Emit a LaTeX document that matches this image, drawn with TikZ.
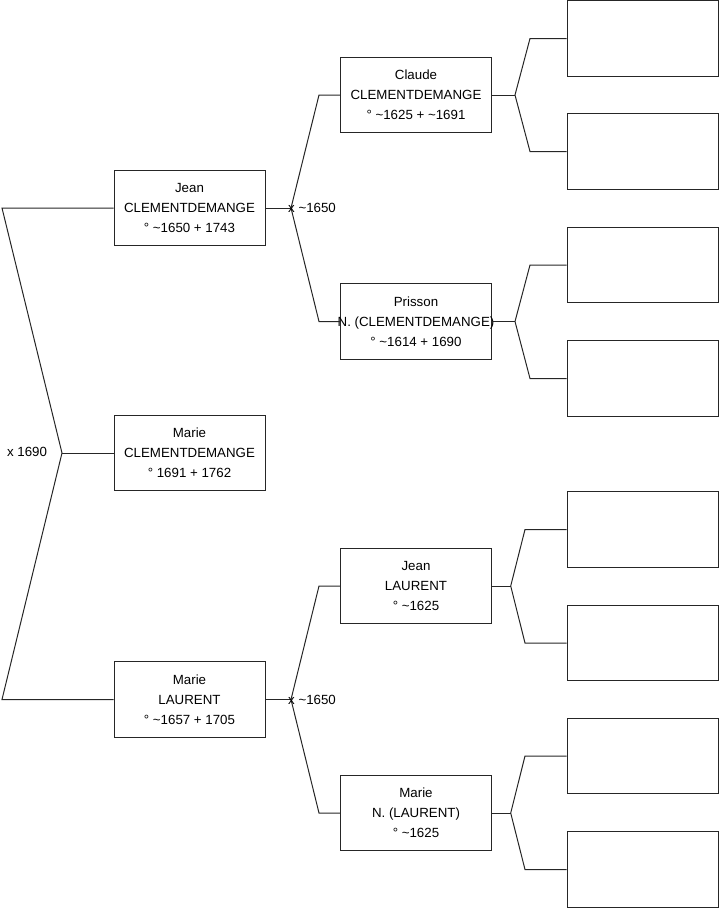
\documentclass[tikz,border=0pt]{standalone}
\usepackage{fontspec}
\setmainfont{Liberation Sans}
\begin{document}
\begin{tikzpicture}[x=1pt,y=-1pt,
  person/.style={draw=black!85, line width=1pt, minimum width=151pt, minimum height=75.5pt,
    inner sep=0pt, align=center, font=\fontsize{13.3}{20}\selectfont},
  empty/.style={draw=black!85, line width=1pt, minimum width=151pt, minimum height=75.5pt, inner sep=0pt},
  link/.style={draw=black!85, line width=1pt},
  lbl/.style={inner sep=0pt, font=\fontsize{13.3}{16}\selectfont}]
\useasboundingbox (0,0) rectangle (719,908);
% generation 1
\node[person] (jean) at (189.5,208) {Jean\\CLEMENTDEMANGE\\° \textasciitilde1650 + 1743};
\node[person] (marie) at (189.5,453) {Marie\\CLEMENTDEMANGE\\° 1691 + 1762};
\node[person] (marieL) at (189.5,699.5) {Marie\\LAURENT\\° \textasciitilde1657 + 1705};
% generation 2
\node[person] (claude) at (416,95) {Claude\\CLEMENTDEMANGE\\° \textasciitilde1625 + \textasciitilde1691};
\node[person] (prisson) at (416,321.5) {Prisson\\\makebox[0pt]{N. (CLEMENTDEMANGE)}\\° \textasciitilde1614 + 1690};
\node[person] (jeanL) at (416,586) {Jean\\LAURENT\\° \textasciitilde1625};
\node[person] (marieN) at (416,813) {Marie\\N. (LAURENT)\\° \textasciitilde1625};
% generation 3 (empty)
\node[empty] (e1) at (642.5,38.5) {};
\node[empty] (e2) at (642.5,151.5) {};
\node[empty] (e3) at (642.5,265) {};
\node[empty] (e4) at (642.5,378.5) {};
\node[empty] (e5) at (642.5,529.5) {};
\node[empty] (e6) at (642.5,643) {};
\node[empty] (e7) at (642.5,756) {};
\node[empty] (e8) at (642.5,869.5) {};
% junction coordinates
\coordinate (a1) at (2,208);
\coordinate (j0) at (62,453);
\coordinate (a2) at (2,699.5);
\coordinate (j1) at (291,208);
\coordinate (b1) at (319,95);
\coordinate (b2) at (319,321.5);
\coordinate (j2) at (291,699.5);
\coordinate (b3) at (319,586);
\coordinate (b4) at (319,813);
\coordinate (k1) at (515,95);
\coordinate (c1) at (530,38.5);
\coordinate (c2) at (530,151.5);
\coordinate (k2) at (515,321.5);
\coordinate (c3) at (530,265);
\coordinate (c4) at (530,378.5);
\coordinate (k3) at (510.7,586);
\coordinate (c5) at (525,529.5);
\coordinate (c6) at (525,643);
\coordinate (k4) at (510.7,813);
\coordinate (c7) at (525,756);
\coordinate (c8) at (525,869.5);
% connectors
\draw[link] (jean.west) -- (a1) -- (j0) -- (a2) -- (marieL.west);
\draw[link] (j0) -- (marie.west);
\draw[link] (jean.east) -- (j1);
\draw[link] (claude.west) -- (b1) -- (j1) -- (b2) -- (prisson.west);
\draw[link] (marieL.east) -- (j2);
\draw[link] (jeanL.west) -- (b3) -- (j2) -- (b4) -- (marieN.west);
\draw[link] (claude.east) -- (k1);
\draw[link] (e1.west) -- (c1) -- (k1) -- (c2) -- (e2.west);
\draw[link] (prisson.east) -- (k2);
\draw[link] (e3.west) -- (c3) -- (k2) -- (c4) -- (e4.west);
\draw[link] (jeanL.east) -- (k3);
\draw[link] (e5.west) -- (c5) -- (k3) -- (c6) -- (e6.west);
\draw[link] (marieN.east) -- (k4);
\draw[link] (e7.west) -- (c7) -- (k4) -- (c8) -- (e8.west);
% labels
\node[lbl] (m0) at (27,452) {x 1690};
\node[lbl, anchor=west] (m1) at (288,208) {x \textasciitilde1650};
\node[lbl, anchor=west] (m2) at (288,699.5) {x \textasciitilde1650};
\end{tikzpicture}
\end{document}
